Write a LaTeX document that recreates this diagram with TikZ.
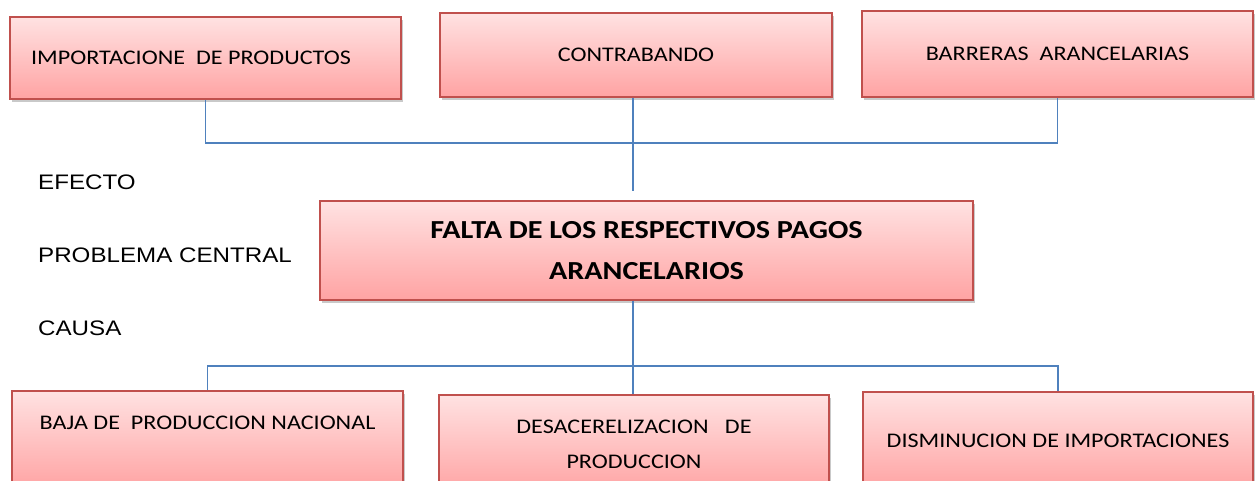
\documentclass[tikz,border=0pt]{standalone}
\usepackage{fontspec}
\setmainfont{Carlito}[FakeStretch=1.16]
\newfontfamily\labelfont{Liberation Sans}[FakeStretch=1.15]
\usepackage{tikz}
\usetikzlibrary{positioning,shadows}

\definecolor{boxtop}{HTML}{FFE2E2}
\definecolor{boxbot}{HTML}{FFA3A3}
\definecolor{boxline}{HTML}{C0504D}
\definecolor{linkblue}{HTML}{4F81BD}

\begin{document}
\begin{tikzpicture}[
  x=1pt, y=-1pt,
  box/.style={draw=boxline, line width=1.3pt, top color=boxtop, bottom color=boxbot,
    minimum width=391pt, align=center, inner sep=0pt,
    font=\fontsize{20.8}{35}\selectfont,
    drop shadow={shadow xshift=2pt, shadow yshift=-3pt, opacity=.3, fill=black!70}},
  mainbox/.style={box, minimum width=653pt, minimum height=99pt,
    font=\fontsize{26}{41}\selectfont\bfseries},
  lowbox/.style={box, minimum height=98pt},
  lbl/.style={anchor=west, inner sep=0pt, font=\labelfont\fontsize{21}{25}\selectfont},
  link/.style={draw=linkblue, line width=1.8pt},
]
\useasboundingbox (0,0) rectangle (1255,481);

\node[box, minimum height=82pt] (imp) at (205.5,58) {IMPORTACIONE\ \ DE PRODUCTOS\hspace*{29pt}};
\node[box, minimum width=392pt, minimum height=84pt] (con) at (636,55) {CONTRABANDO};
\node[box, minimum height=86pt] (bar) at (1057.5,54) {BARRERAS\ \ ARANCELARIAS};

\node[mainbox] (cen) at (646.5,250.5) {FALTA DE LOS RESPECTIVOS PAGOS\\ARANCELARIOS};

\node[lowbox] (baj) at (207.5,440) {BAJA DE\ \ PRODUCCION NACIONAL\\\mbox{}};
\node[lowbox, minimum width=390pt] (des) at (634,444) {DESACERELIZACION\ \ \ DE\\PRODUCCION};
\node[lowbox, minimum width=390pt] (dis) at (1058,441) {DISMINUCION DE IMPORTACIONES};

\node[lbl] (efe) at (38,182) {EFECTO};
\node[lbl] (pro) at (38,255) {PROBLEMA CENTRAL};
\node[lbl] (cau) at (38,328) {CAUSA};

\coordinate (topbar) at (633,143);
\coordinate (conend) at (633,191);
\coordinate (botbar) at (633,366);

\draw[link] (imp.south) |- (topbar) -| (bar.south);
\draw[link] (con.south -| conend) -- (conend);
\draw[link] (cen.south -| botbar) -- (botbar);
\draw[link] (baj.north) |- (botbar) -| (dis.north);
\draw[link] (botbar) -- (des.north -| botbar);

\end{tikzpicture}
\end{document}
